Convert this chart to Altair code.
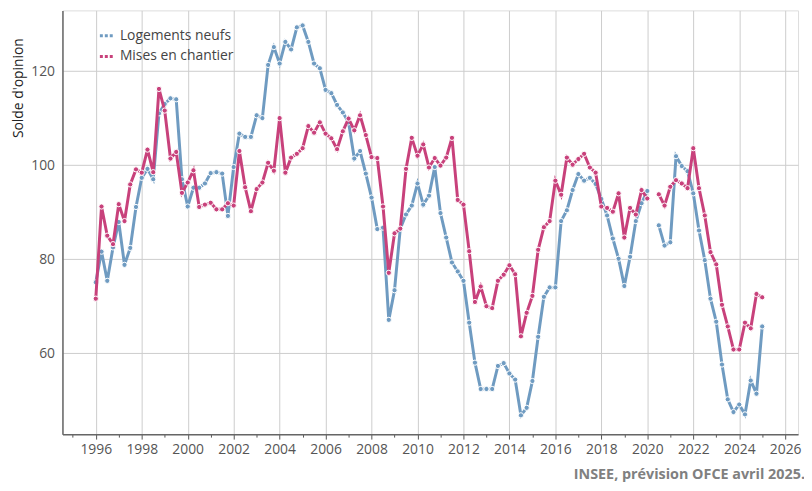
import altair as alt
import pandas as pd

# Quarterly observations, 1996T1 .. 2025T1 (None = missing quarter, 2020T2)
start_year = 1996
series_names = ["Logements neufs", "Mises en chantier"]

logements_neufs = [
    75.1, 81.6, 75.4, 82.5,   # 1996
    87.9, 78.8, 82.4, 91.1,   # 1997
    97.3, 99.2, 97.0, 111.0,  # 1998
    113.0, 114.2, 114.0, 97.0,  # 1999
    91.2, 95.2, 95.2, 96.1,   # 2000
    98.3, 98.5, 98.2, 89.2,   # 2001
    99.6, 106.7, 106.0, 106.0,  # 2002
    110.6, 110.0, 121.3, 125.1,  # 2003
    121.6, 126.2, 124.6, 129.3,  # 2004
    129.7, 126.2, 121.6, 120.6,  # 2005
    116.0, 115.3, 112.8, 111.2,  # 2006
    109.1, 101.4, 103.0, 98.2,  # 2007
    93.1, 86.4, 86.7, 67.1,   # 2008
    73.4, 86.5, 89.5, 91.4,   # 2009
    96.1, 91.6, 93.5, 99.6,   # 2010
    89.8, 84.6, 79.3, 77.4,   # 2011
    75.4, 66.5, 58.0, 52.4,   # 2012
    52.4, 52.4, 57.3, 57.9,   # 2013
    55.7, 54.4, 46.8, 48.4,   # 2014
    54.1, 63.5, 72.0, 74.0,   # 2015
    74.0, 88.1, 90.4, 94.7,   # 2016
    98.1, 96.7, 97.3, 96.0,   # 2017
    92.8, 89.3, 84.4, 80.1,   # 2018
    74.3, 80.5, 88.1, 91.9,   # 2019
    94.5, None, 87.2, 82.9,   # 2020
    83.6, 101.9, 99.8, 98.7,  # 2021
    94.0, 86.1, 79.8, 71.6,   # 2022
    66.7, 57.6, 50.2, 47.5,   # 2023
    49.1, 47.0, 54.2, 51.4,   # 2024
    65.7,                     # 2025
]

mises_en_chantier = [
    71.6, 91.2, 85.0, 83.2,   # 1996
    91.7, 88.1, 95.9, 99.1,   # 1997
    98.4, 103.3, 98.5, 116.2,  # 1998
    111.6, 101.4, 102.8, 94.1,  # 1999
    96.3, 98.9, 91.1, 91.6,   # 2000
    92.0, 90.6, 90.6, 91.9,   # 2001
    91.4, 103.0, 95.3, 90.2,  # 2002
    94.9, 96.3, 100.5, 98.8,  # 2003
    110.0, 98.4, 101.6, 102.4,  # 2004
    103.6, 108.3, 106.9, 109.1,  # 2005
    106.7, 105.7, 103.4, 107.2,  # 2006
    109.9, 107.4, 110.6, 106.4,  # 2007
    101.7, 101.5, 91.2, 77.1,  # 2008
    85.5, 86.5, 99.2, 105.8,  # 2009
    102.0, 104.4, 99.5, 101.5,  # 2010
    99.9, 101.6, 105.8, 92.6,  # 2011
    91.6, 81.7, 70.9, 74.2,   # 2012
    70.0, 69.6, 75.4, 76.7,   # 2013
    78.7, 76.8, 63.6, 68.6,   # 2014
    72.2, 82.0, 86.8, 88.1,   # 2015
    96.7, 93.7, 101.6, 100.1,  # 2016
    101.3, 102.4, 99.5, 98.4,  # 2017
    91.2, 90.9, 90.1, 94.0,   # 2018
    84.6, 90.9, 89.5, 94.7,   # 2019
    92.9, None, 93.8, 91.4,   # 2020
    95.4, 96.8, 96.1, 95.1,   # 2021
    103.6, 95.1, 89.3, 81.5,  # 2022
    78.9, 70.3, 65.7, 60.8,   # 2023
    60.8, 66.5, 65.3, 72.6,   # 2024
    71.9,                     # 2025
]

y_ticks = [60, 80, 100, 120]
source_text = "INSEE, prévision OFCE avril 2025."
y_title = "Solde d'opinion"

colors = ["#6f9bc1", "#c8417b"]

rows = []
for name, vals in zip(series_names, [logements_neufs, mises_en_chantier]):
    seg = 0
    for i, v in enumerate(vals):
        if v is None:
            seg += 1
            continue
        rows.append({"annee": start_year + i / 4, "valeur": v, "serie": name, "segment": seg})
df = pd.DataFrame(rows)

FONT = "Open Sans"
even = "datum.value % 2 == 0"

x_enc = alt.X(
    "annee:Q",
    scale=alt.Scale(domain=[1994.55, 2026.56], nice=False, zero=False),
    axis=alt.Axis(
        values=list(range(1995, 2027)),
        format="d",
        labelExpr=f"{even} ? datum.label : ''",
        title=None,
        grid=True,
        gridColor="#cccccc",
        gridOpacity={"condition": {"test": even, "value": 1}, "value": 0},
        tickSize={"condition": {"test": even, "value": 5}, "value": 3},
        tickColor="#555555",
        domainColor="#666666",
        domainWidth=1.5,
        labelFont=FONT,
        labelFontSize=14,
        labelColor="#555555",
        labelPadding=4,
        labelFlush=False,
        labelOverlap=False,
    ),
)

y_enc = alt.Y(
    "valeur:Q",
    scale=alt.Scale(domain=[42.8, 132.9], nice=False, zero=False),
    axis=alt.Axis(
        values=y_ticks,
        title=y_title,
        titleFont=FONT,
        titleFontSize=14,
        titleFontWeight="normal",
        titleColor="#222222",
        titleAngle=270,
        titleBaseline="middle",
        titleAlign="center",
        titleX=-44,
        titleY=78,
        grid=True,
        gridColor="#cccccc",
        tickSize=0,
        domainColor="#666666",
        domainWidth=1.5,
        labelFont=FONT,
        labelFontSize=14,
        labelColor="#555555",
        labelPadding=8,
    ),
)

color_enc = alt.Color(
    "serie:N",
    scale=alt.Scale(domain=series_names, range=colors),
    legend=alt.Legend(
        title=None,
        orient="none",
        legendX=36,
        legendY=17,
        labelFont=FONT,
        labelFontSize=14,
        labelColor="#444444",
        symbolType="stroke",
        symbolStrokeWidth=3,
        symbolDash=[3, 2],
        symbolSize=180,
        rowPadding=5,
        labelOffset=5,
    ),
)

layers = []
for name in series_names:
    layers.append(
        alt.Chart(df)
        .transform_filter(alt.datum.serie == name)
        .mark_line(
            strokeWidth=3,
            point=alt.OverlayMarkDef(filled=True, size=28, stroke="white", strokeWidth=1),
        )
        .encode(x=x_enc, y=y_enc, color=color_enc, detail="segment:N")
    )

chart = (
    alt.layer(*layers)
    .properties(
        width=743,
        height=428,
        autosize=alt.AutoSizeParams(type="none"),
        padding={"left": 55, "top": 0, "right": 6, "bottom": 54},
        title=alt.TitleParams(
            text=source_text,
            orient="bottom",
            anchor="end",
            font=FONT,
            fontSize=14.5,
            fontWeight="bold",
            color="#808080",
            offset=11,
            dx=4,
        ),
    )
    .configure_view(stroke=None)
    .configure(background="white")
)

chart.save("out.html", embed_options={"renderer": "svg", "actions": False})
